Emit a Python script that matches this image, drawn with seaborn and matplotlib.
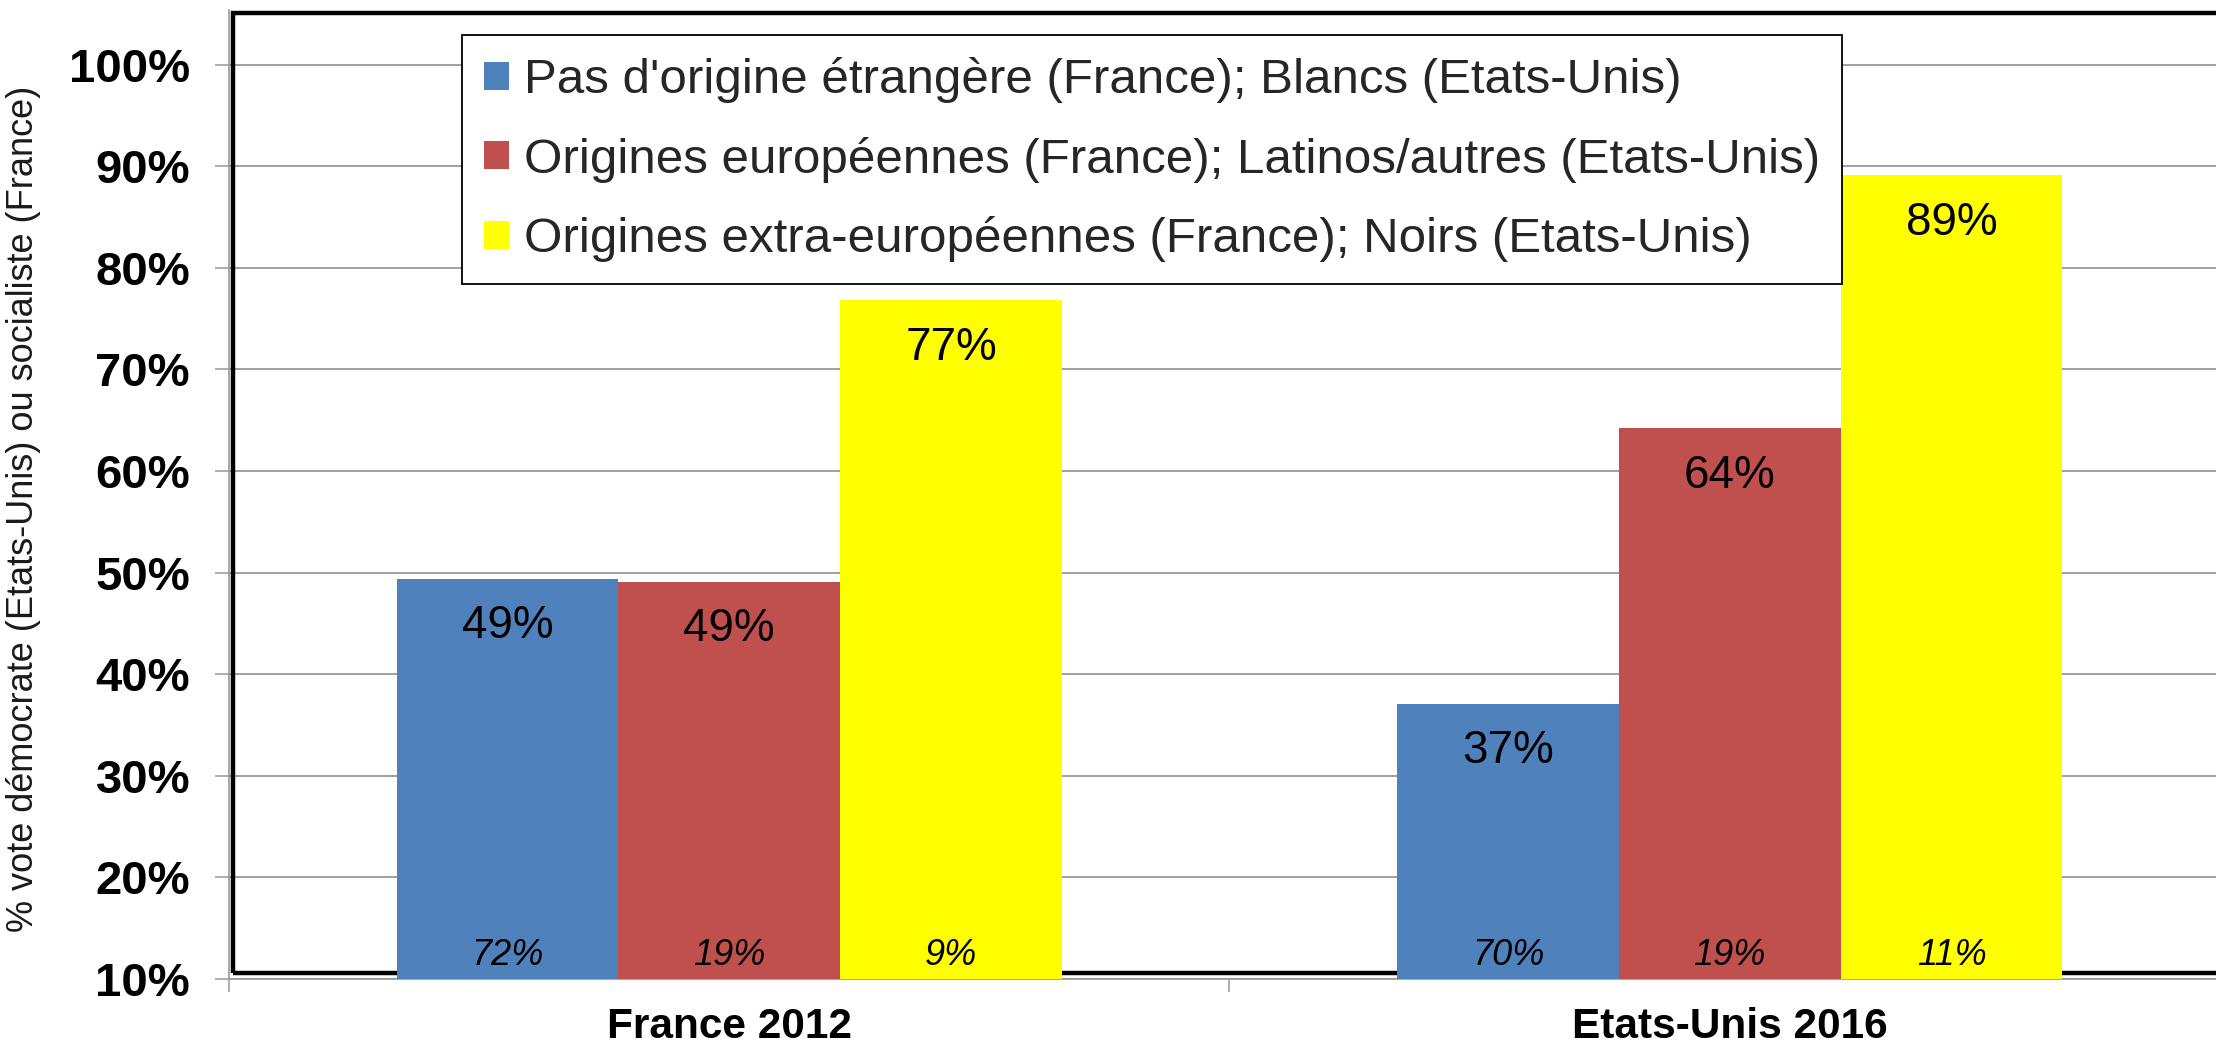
import matplotlib
matplotlib.use("Agg")
import matplotlib.pyplot as plt
from matplotlib.patches import Patch, Rectangle
import seaborn as sns
import pandas as pd

# Data
groups = ["France 2012", "Etats-Unis 2016"]
origins = [
    "Pas d'origine étrangère (France); Blancs (Etats-Unis)",
    "Origines européennes (France); Latinos/autres (Etats-Unis)",
    "Origines extra-européennes (France); Noirs (Etats-Unis)",
]
vote_france = [49.4, 49.1, 76.8]
vote_usa = [37.1, 64.2, 89.1]
share_france = [72, 19, 9]
share_usa = [70, 19, 11]
colors = ["#4F81BD", "#C0504D", "#FFFF00"]
y_ticks = [10, 20, 30, 40, 50, 60, 70, 80, 90, 100]
y_label = "% vote démocrate (Etats-Unis) ou socialiste (France)"

df = pd.DataFrame({
    "groupe": [groups[0]] * 3 + [groups[1]] * 3,
    "origine": origins * 2,
    "vote": vote_france + vote_usa,
})

sns.set_style("white")
plt.rcParams["font.family"] = ["Liberation Sans", "DejaVu Sans"]

W, H = 2216, 1045
fig = plt.figure(figsize=(W / 100, H / 100), dpi=100)
ax = fig.add_axes([229 / W, 66 / H, 2001 / W, 969 / H])

sns.barplot(data=df, x="groupe", y="vote", hue="origine", hue_order=origins,
            order=groups, palette=colors, saturation=1, width=0.665,
            errorbar=None, linewidth=0, ax=ax, zorder=3)

ax.set_xlim(-0.5, 1.5)
ax.set_ylim(10, 105.37)

# grid and axes lines
grid_col = "#989898"
ax.set_yticks(y_ticks)
ax.set_yticklabels([f"{t}%" for t in y_ticks], fontsize=34, fontweight="bold")
ax.yaxis.grid(True, color=grid_col, linewidth=1.3, zorder=0)
ax.set_axisbelow(True)
for s in ["top", "right"]:
    ax.spines[s].set_visible(False)
for s in ["left", "bottom"]:
    ax.spines[s].set_color(grid_col)
    ax.spines[s].set_linewidth(1.2)
ax.tick_params(axis="y", direction="out", length=10, width=1.1, color=grid_col,
               pad=18, left=True, labelcolor="black")
ax.tick_params(axis="x", which="major", length=0, pad=20, labelsize=30.5,
               labelcolor="black")
for lbl in ax.get_xticklabels():
    lbl.set_fontweight("bold")
ax.set_xticks([-0.5, 0.5, 1.5], minor=True)
ax.tick_params(axis="x", which="minor", direction="out", length=9.5, width=1.1,
               color=grid_col, bottom=True)
ax.set_xlabel("")

# plot-area border
frame = Rectangle((-0.496, 10.59), 3.0, 105.12 - 10.59, fill=False,
                  edgecolor="black", linewidth=3.2, zorder=1.5, clip_on=False)
ax.add_patch(frame)

ax.set_ylabel(y_label, fontsize=26, color="#1a1a1a")
ax.yaxis.set_label_coords(41 / W, 0.513, transform=fig.transFigure)

# value labels inside bars, population shares near the base
values = [vote_france, vote_usa]
shares = [share_france, share_usa]
for h, cont in enumerate(ax.containers):
    for g, bar in enumerate(cont.patches):
        xc = bar.get_x() + bar.get_width() / 2
        v = values[g][h]
        ax.annotate(f"{v:.0f}%", (xc, v), xytext=(0, -34),
                    textcoords="offset points", ha="center", va="center",
                    fontsize=33, color="black", zorder=5)
        ax.annotate(f"{shares[g][h]}%", (xc, 10), xytext=(0, 17),
                    textcoords="offset points", ha="center", va="center",
                    fontsize=26, style="italic", color="black", zorder=5)

if ax.get_legend() is not None:
    ax.get_legend().remove()
handles = [Patch(facecolor=c, edgecolor="none") for c in colors]
leg = fig.legend(handles, origins, loc="upper left",
                 bbox_to_anchor=(462 / W, 1 - 35 / H), fontsize=35.5,
                 frameon=True, fancybox=False, framealpha=1, edgecolor="black",
                 borderpad=0.45, labelspacing=0.68, handlelength=0.5,
                 handleheight=0.5, handletextpad=0.3, borderaxespad=0)
leg.get_frame().set_linewidth(1.3)

fig.savefig("out.png", dpi=100)
